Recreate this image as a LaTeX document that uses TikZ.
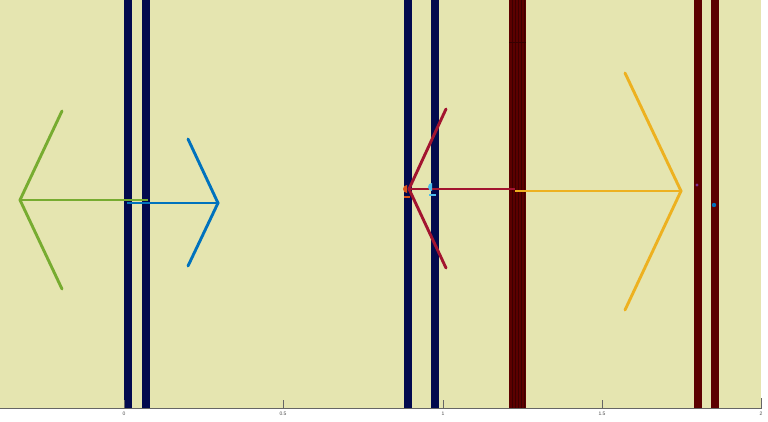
\documentclass[tikz,border=0pt]{standalone}
\usepackage{fontspec}
\setmainfont{Liberation Sans}
\definecolor{bgc}{RGB}{229,229,176}
\definecolor{navy}{RGB}{2,10,78}
\definecolor{dred}{RGB}{92,0,0}
\definecolor{mgreen}{RGB}{119,172,48}
\definecolor{mblue}{RGB}{0,114,189}
\definecolor{mred}{RGB}{162,20,47}
\definecolor{myellow}{RGB}{237,177,32}
\definecolor{morange}{RGB}{217,83,25}
\definecolor{mlblue}{RGB}{77,190,238}
\definecolor{mpurple}{RGB}{126,47,142}
\tikzset{
  arr/.style={line width=2.9pt, line cap=round, line join=miter},
  nbar/.style={fill=navy, draw=none},
  rbar/.style={fill=dred, draw=none},
  ticklab/.style={font=\fontsize{5}{5}\selectfont, inner sep=0pt, text=black!70}
}
\begin{document}
\begin{tikzpicture}[x=1pt,y=-1pt]
\useasboundingbox (0,0) rectangle (768,422);
\fill[white] (0,0) rectangle (768,422);
\fill[bgc] (0,0) rectangle (761,408);
% navy bars
\fill[nbar] (124,0) rectangle (132,408);
\fill[nbar] (142,0) rectangle (150,408);
\fill[nbar] (404,0) rectangle (412,408);
\fill[nbar] (431,0) rectangle (439,408);
% dark red bars
\fill[rbar] (509,0) rectangle (526,408);
\foreach \xx in {512,515,518,521,524}{\draw[black!35!dred, line width=0.3pt] (\xx,0) -- (\xx,408);}
\draw[black!40!dred, line width=0.3pt] (509,42) -- (526,42);
\fill[rbar] (694,0) rectangle (702,408);
\fill[rbar] (711,0) rectangle (719,408);
% green arrow
\draw[arr, mgreen] (62,111) -- (20,200) -- (62,289);
\draw[arr, mgreen, line cap=butt] (20,200) -- (148,200);
% blue arrow
\draw[arr, mblue, line cap=butt] (127,203) -- (218,203);
\draw[arr, mblue] (188,139) -- (218,203) -- (188,266);
% red arrow
\draw[arr, mred] (446,109) -- (409,189) -- (446,268);
\draw[arr, mred, line cap=butt] (409,189) -- (515,189);
% yellow arrow
\draw[arr, myellow, line cap=butt] (515,191) -- (681,191);
\draw[arr, myellow] (625,73) -- (681,191) -- (625,310);
% small markers
\fill[morange] (407,193) arc (90:270:4) -- cycle;
\draw[morange, line width=1.5pt] (404,197) -- (410,197);
\fill[mlblue] (432,191) arc (90:270:4) -- cycle;
\draw[mlblue, line width=1.5pt] (429,195) -- (436,195);
\fill[mpurple] (697,185) circle (1.7);
\fill[mblue] (714,205) circle (2.2);
% axis
\draw[black!60, line width=0.5pt] (0,408) -- (761,408) -- (761,398);
\foreach \px/\lab/\nm in {124/0/ta,283/0.5/tb,443/1/tc,602/1.5/td,761/2/te}{
  \draw[black!60, line width=0.5pt] (\px,408) -- (\px,400);
  \node[ticklab] (\nm) at (\px,414) {\lab};
}
\end{tikzpicture}
\end{document}
